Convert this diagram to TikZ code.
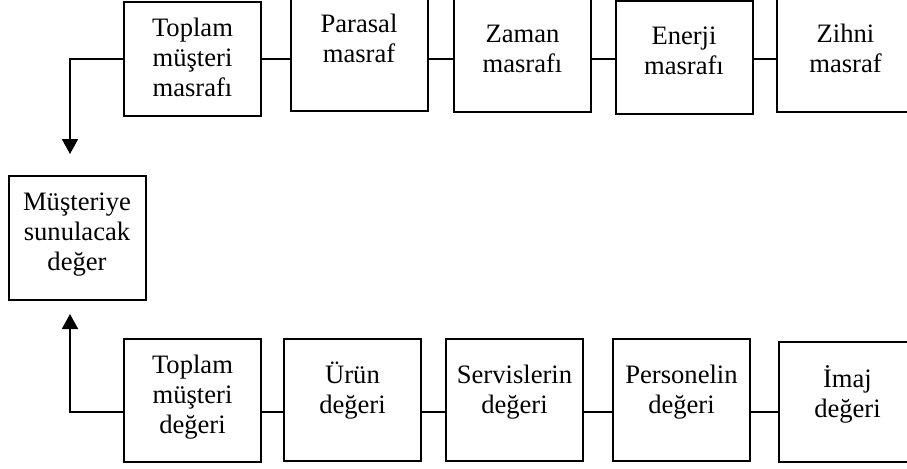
\documentclass[tikz,border=0pt]{standalone}
\usepackage{fontspec}
\setmainfont{Liberation Serif}
\usetikzlibrary{arrows.meta}

\begin{document}
\begin{tikzpicture}[x=0.5pt,y=-0.5pt,font=\fontsize{13.3}{15}\selectfont]

                \useasboundingbox (0,0) rectangle (907,468);
                \clip (0,0) rectangle (907,468);

                \tikzset{
                % Boxes hang from the base line of their first text line
                box/.style={draw, line width=1pt, anchor=base, inner sep=0pt, text width=68.5pt, align=center},
                link/.style={line width=0.85pt},
                arrow/.style={line width=0.85pt, -{Triangle[length=7.5pt,width=8pt]}}
                }

                % Heights of the two rows of connectors
                \coordinate (costline) at (0,59);
                \coordinate (valueline) at (0,412);
                \coordinate (costtip) at (70,154);
                \coordinate (valuetip) at (70,314);

                % Cost row
                \node at (192.5,36)[box, text height=17pt, text depth=40pt] (cost) {Toplam\\müşteri\\masrafı};
                \node at (359,32)[box, text height=21pt, text depth=39.5pt] (money) {Parasal\\masraf};
                \node at (522.5,42)[box, text height=26pt, text depth=35pt] (time) {Zaman\\masrafı};
                \node at (684,44)[box, text height=21.5pt, text depth=35pt] (energy) {Enerji\\masrafı};
                \node at (845.5,42)[box, text height=26pt, text depth=35pt] (mind) {Zihni\\masraf};

                % Value offered to the customer
                \node at (77,210)[box, text height=17pt, text depth=45pt] (offer) {Müşteriye\\sunulacak\\değer};

                % Value row
                \node at (192.5,373)[box, text height=17pt, text depth=44.5pt] (worth) {Toplam\\müşteri\\değeri};
                \node at (352.5,383)[box, text height=22pt, text depth=39pt] (product) {Ürün\\değeri};
                \node at (514.5,383)[box, text height=22pt, text depth=39pt] (service) {Servislerin\\değeri};
                \node at (681.5,383)[box, text height=22pt, text depth=39pt] (staff) {Personelin\\değeri};
                \node at (847.5,387)[box, text height=22.5pt, text depth=37.5pt] (image) {İmaj\\değeri};

                \draw[link] (cost.east |- costline) -- (money.west |- costline);
                \draw[link] (money.east |- costline) -- (time.west |- costline);
                \draw[link] (time.east |- costline) -- (energy.west |- costline);
                \draw[link] (energy.east |- costline) -- (mind.west |- costline);

                \draw[link] (worth.east |- valueline) -- (product.west |- valueline);
                \draw[link] (product.east |- valueline) -- (service.west |- valueline);
                \draw[link] (service.east |- valueline) -- (staff.west |- valueline);
                \draw[link] (staff.east |- valueline) -- (image.west |- valueline);

                \draw[arrow] (cost.west |- costline) -| (costtip);
                \draw[arrow] (worth.west |- valueline) -| (valuetip);
            \end{tikzpicture}
\end{document}
